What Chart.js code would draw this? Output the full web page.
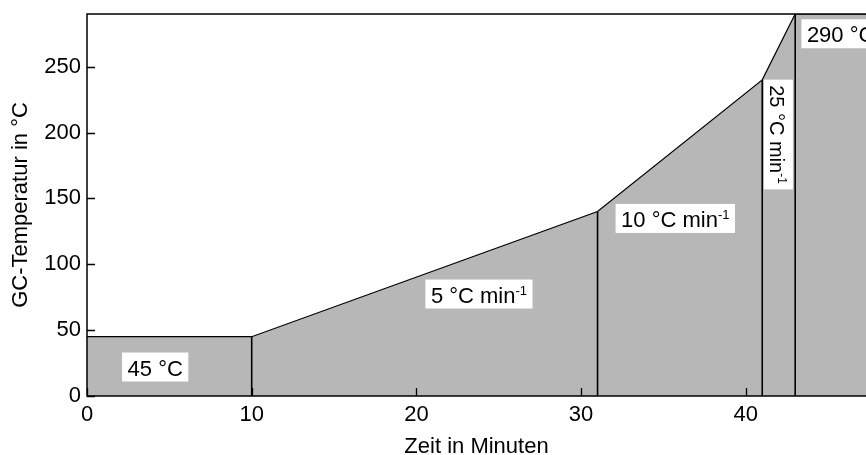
<!DOCTYPE html>
<html>
<head>
<meta charset="utf-8">
<script src="https://cdn.jsdelivr.net/npm/chart.js@4.4.1/dist/chart.umd.min.js"></script>
<style>
html, body { margin: 0; padding: 0; background: #fff; }
</style>
</head>
<body>
<canvas id="gc-program" width="866" height="455"></canvas>
<script>
// GC oven program: time in minutes and temperature in °C
const times = [0, 10, 31, 41, 43, 47.3];
const temps = [45, 45, 140, 240, 290, 290];
// points where one program step ends and the next starts
const stepIdx = [1, 2, 3, 4];
const xTicks = [0, 10, 20, 30, 40];
const yTicks = [0, 50, 100, 150, 200, 250];
const stepTexts = ['45 °C', '5 °C min', '10 °C min', '25 °C min', '290 °C'];
const stepSups = ['', '-1', '-1', '-1', ''];

const FONT = '"Liberation Sans", Arial, Helvetica, sans-serif';

// where each step label sits (in axis units) and how it is drawn
const labelSpots = [
  { x: 4.14, y: 22, size: 22 },
  { x: 23.8, y: 77.4, size: 22 },
  { x: 35.72, y: 134.8, size: 22 },
  { x: 41.98, y: 198.5, size: 20, rotate: true },
  { x: 45.76, y: 275, size: 22 }
];

function drawStepLabel(ctx, text, sup, cx, cy, size, rotate) {
  ctx.save();
  ctx.font = size + 'px ' + FONT;
  const w1 = ctx.measureText(text).width;
  const supSize = Math.round(size * 0.6);
  ctx.font = supSize + 'px ' + FONT;
  const w2 = sup ? ctx.measureText(sup).width : 0;
  const total = w1 + w2;
  const bw = total + 11, bh = 29;
  ctx.translate(cx, cy);
  if (rotate) ctx.rotate(Math.PI / 2);
  ctx.fillStyle = '#fff';
  ctx.fillRect(-bw / 2, -bh / 2, bw, bh);
  ctx.fillStyle = '#000';
  ctx.textBaseline = 'alphabetic';
  ctx.textAlign = 'left';
  ctx.font = size + 'px ' + FONT;
  ctx.fillText(text, -total / 2, 8.5);
  if (sup) {
    ctx.font = supSize + 'px ' + FONT;
    ctx.fillText(sup, -total / 2 + w1, 0.5);
  }
  ctx.restore();
}

// axis frame, inward ticks and the step labels on top of the fill
const frame = {
  id: 'frame',
  afterDatasetsDraw(chart) {
    const { ctx, chartArea: a, scales: { x, y } } = chart;
    ctx.save();
    ctx.strokeStyle = '#000';
    ctx.lineWidth = 1.5;
    ctx.beginPath();
    ctx.moveTo(a.right + 2, a.top);
    ctx.lineTo(a.left, a.top);
    ctx.lineTo(a.left, a.bottom);
    ctx.lineTo(a.right + 2, a.bottom);
    ctx.stroke();

    ctx.lineWidth = 1.3;
    ctx.beginPath();
    xTicks.forEach(v => {
      const px = Math.round(x.getPixelForValue(v)) + 0.5;
      ctx.moveTo(px, a.bottom);
      ctx.lineTo(px, a.bottom - 8);
    });
    yTicks.forEach(v => {
      const py = Math.round(y.getPixelForValue(v)) + 0.5;
      ctx.moveTo(a.left, py);
      ctx.lineTo(a.left + 8, py);
    });
    ctx.stroke();
    ctx.restore();

    stepTexts.forEach((t, i) => {
      const s = labelSpots[i];
      drawStepLabel(ctx, t, stepSups[i], x.getPixelForValue(s.x), y.getPixelForValue(s.y), s.size, s.rotate);
    });
  }
};

const profile = times.map((t, i) => ({ x: t, y: temps[i] }));
// vertical lines under each break point, drawn above the grey fill
const dividers = stepIdx.map(i => ({
  data: [{ x: times[i], y: 0 }, { x: times[i], y: temps[i] }],
  borderColor: '#000',
  borderWidth: 1.6,
  pointRadius: 0,
  fill: false,
  order: 0
}));

const canvas = document.getElementById('gc-program');
const gc_chart = new Chart(canvas, {
  type: 'line',
  data: {
    datasets: [
      {
        data: profile,
        fill: 'origin',
        backgroundColor: '#b7b7b7',
        borderColor: '#000',
        borderWidth: 1.2,
        pointRadius: 0,
        tension: 0,
        order: 1
      },
      ...dividers
    ]
  },
  options: {
    responsive: false,
    animation: false,
    events: [],
    layout: { padding: { top: 14, left: 0, right: 0, bottom: 0 } },
    plugins: { legend: { display: false }, tooltip: { enabled: false } },
    scales: {
      x: {
        type: 'linear',
        min: 0,
        max: times[times.length - 1],
        grid: { display: false, drawTicks: false },
        border: { display: false },
        afterBuildTicks: s => { s.ticks = xTicks.map(v => ({ value: v })); },
        afterFit: s => { s.height = 59; s.paddingLeft = 0; s.paddingRight = 0; },
        ticks: { padding: 6, color: '#000', maxRotation: 0, autoSkip: false, font: { family: FONT, size: 22 } },
        title: {
          display: true,
          text: 'Zeit in Minuten',
          color: '#000',
          padding: 0,
          font: { family: FONT, size: 22, lineHeight: 0.7 }
        }
      },
      y: {
        min: 0,
        max: 290,
        grid: { display: false, drawTicks: false },
        border: { display: false },
        afterBuildTicks: s => { s.ticks = yTicks.map(v => ({ value: v })); },
        afterFit: s => { s.width = 87; s.paddingTop = 0; s.paddingBottom = 0; },
        ticks: { padding: 6, color: '#000', font: { family: FONT, size: 22 } },
        title: {
          display: true,
          text: 'GC-Temperatur in °C',
          color: '#000',
          padding: { top: 8, bottom: 0 },
          font: { family: FONT, size: 22 }
        }
      }
    }
  },
  plugins: [frame]
});
</script>
</body>
</html>
